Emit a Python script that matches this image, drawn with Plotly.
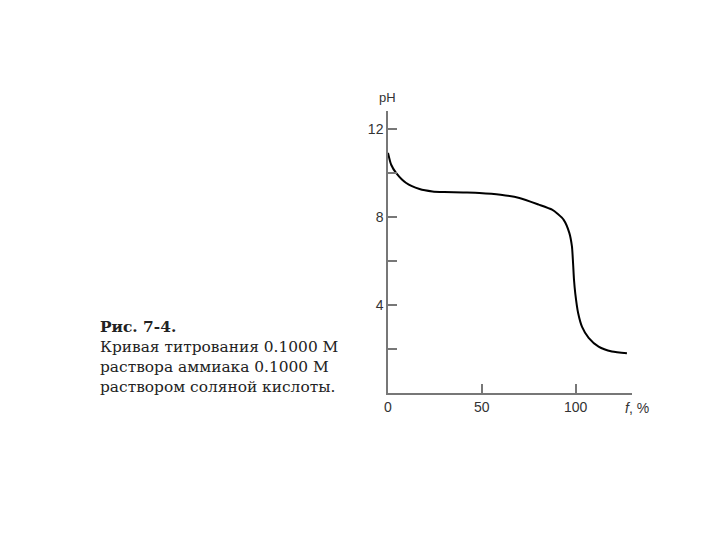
import plotly.graph_objects as go

# titration curve: 0.1000 M NH3 titrated with 0.1000 M HCl
f_pct = [0, 1.7, 4.4, 9.7, 16.8, 23.7, 30, 40, 48.7, 60, 70, 80.3, 87.4,
         90.5, 93.6, 96.6, 98.0, 98.6, 99.1, 99.8, 101.3, 103.4, 106.9,
         112.2, 119.3, 127.3]
ph = [10.9, 10.36, 9.98, 9.53, 9.26, 9.15, 9.12, 9.1, 9.08, 9.0, 8.85,
      8.55, 8.32, 8.12, 7.86, 7.27, 6.65, 5.9, 5.14, 4.5, 3.63, 3.0, 2.5,
      2.1, 1.88, 1.8]

x_ticks = [0, 50, 100]
y_ticks = [2, 4, 6, 8, 10, 12]
y_ticktext = ["", "4", "", "8", "", "12"]

caption = ("<b>Рис. 7-4.</b><br>Кривая титрования 0.1000 М<br>"
           "раствора аммиака 0.1000 М<br>раствором соляной кислоты.")

axis_col = "#777777"
OFF = 8  # page body margin shifts the figure by 8px

L, R, T, B = 388 - OFF, 88 + OFF, 111 - OFF, 147 + OFF

fig = go.Figure()
fig.add_trace(go.Scatter(
    x=f_pct, y=ph, mode="lines",
    line=dict(color="black", width=2, shape="spline", smoothing=0.6),
    showlegend=False, hoverinfo="skip"
))

fig.update_layout(
    width=720, height=540,
    paper_bgcolor="white", plot_bgcolor="white",
    margin=dict(l=L, r=R, t=T, b=B),
    font=dict(family="Liberation Sans, Arial", size=14, color="#333333"),
    xaxis=dict(
        range=[0, 130], tickvals=x_ticks, ticks="inside", ticklen=9,
        tickcolor=axis_col, tickwidth=1.5, showgrid=False, zeroline=False,
        showline=True, linecolor=axis_col, linewidth=1.5,
    ),
    yaxis=dict(
        range=[0, 12.8], tickvals=y_ticks, ticktext=y_ticktext,
        ticks="inside", ticklen=9, tickcolor=axis_col, tickwidth=1.5,
        showgrid=False, zeroline=False, showline=True, linecolor=axis_col,
        linewidth=1.5,
    ),
    annotations=[
        dict(x=387, y=97, xref="paper", yref="paper", text="pH",
             showarrow=False, xanchor="center", yanchor="middle",
             font=dict(size=13, color="#333333")),
        dict(x=637, y=408, xref="paper", yref="paper",
             text="<i>f</i>, %", showarrow=False, xanchor="center",
             yanchor="middle", font=dict(size=14, color="#333333")),
        dict(x=98, y=316, xref="paper", yref="paper", text=caption,
             showarrow=False, align="left", xanchor="left", yanchor="top",
             font=dict(family="DejaVu Serif, Liberation Serif", size=15.4,
                       color="#222222")),
    ],
)

# annotations were given in window pixel coordinates; convert to paper
pw = 720 - L - R
ph_px = 540 - T - B
for a in fig.layout.annotations:
    px, py = a.x - OFF, a.y - OFF
    a.x = (px - L) / pw
    a.y = 1 - (py - T) / ph_px

fig.write_html("out.html")
